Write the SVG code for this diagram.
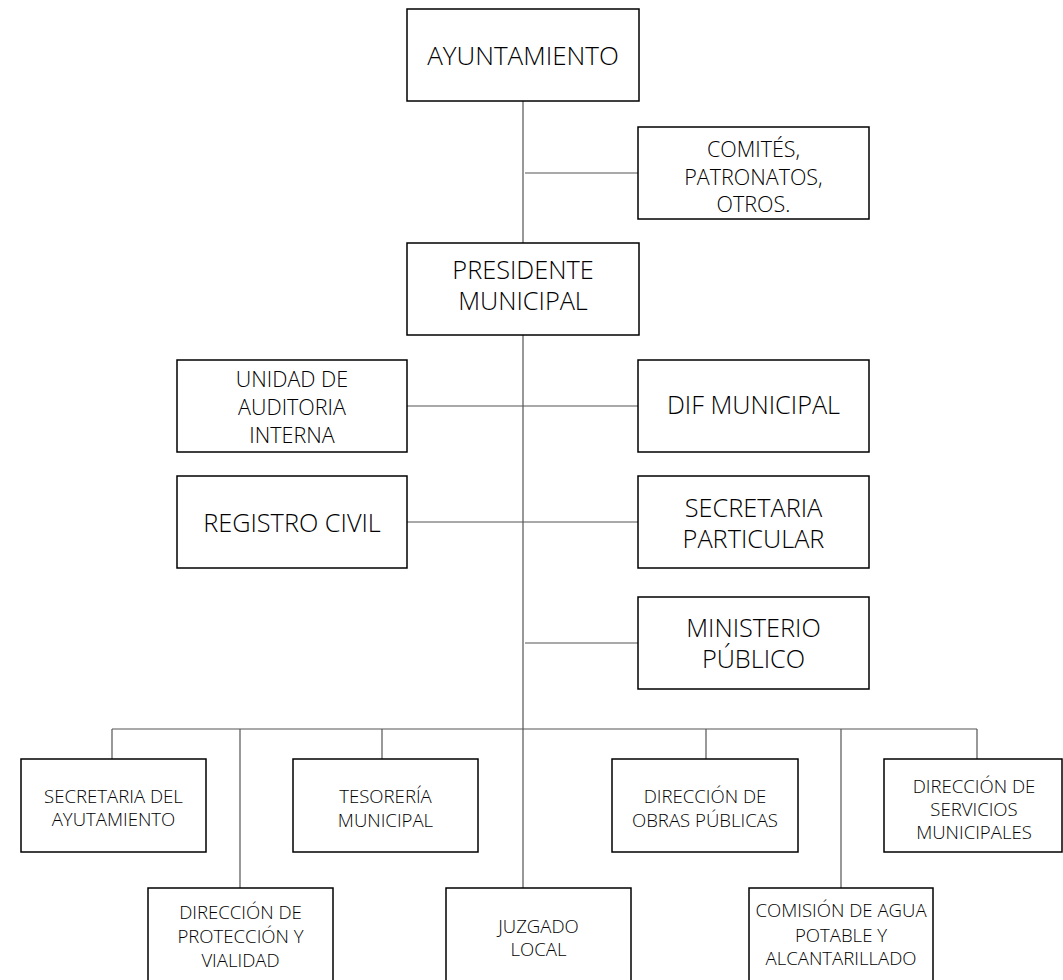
<svg xmlns="http://www.w3.org/2000/svg" width="1063" height="980" viewBox="0 0 1063 980">
<style>
.box{fill:#fff;stroke:#000;stroke-width:1.5}
.t{font-family:"Open Sans","Segoe UI","Liberation Sans",sans-serif;font-weight:300;fill:#000;text-anchor:middle}
.l{font-size:25.3px}
.m{font-size:21.5px}
.s{font-size:18.6px}
.c{stroke:#555;stroke-width:1.2;fill:none}
</style>
<rect width="1063" height="980" fill="#fff"/>
<g id="connectors">
<path class="c" d="M523 101V243M525 173H638M523 335V888M407 406H638M407 522H638M525 643H638M112 729H977M112 729V759M240 729V888M382 729V759M706 729V759M841 729V888M977 729V759"/>
</g>
<g id="ayuntamiento"><rect class="box" x="407" y="9" width="232" height="92"/><text class="t" x="523" y="65" font-size="26">AYUNTAMIENTO</text></g>
<g id="comites"><rect class="box" x="638" y="127" width="231" height="92"/><text class="t m" x="753.5"><tspan x="753.5" y="157">COMITÉS,</tspan><tspan x="753.5" y="185">PATRONATOS,</tspan><tspan x="753.5" y="212">OTROS.</tspan></text></g>
<g id="presidente"><rect class="box" x="407" y="243" width="232" height="92"/><text class="t l"><tspan x="523" y="279">PRESIDENTE</tspan><tspan x="523" y="310">MUNICIPAL</tspan></text></g>
<g id="auditoria"><rect class="box" x="177" y="360" width="230" height="92"/><text class="t m"><tspan x="292" y="387">UNIDAD DE</tspan><tspan x="292" y="415">AUDITORIA</tspan><tspan x="292" y="443">INTERNA</tspan></text></g>
<g id="dif"><rect class="box" x="638" y="360" width="231" height="92"/><text class="t l" x="753.5" y="414">DIF MUNICIPAL</text></g>
<g id="registro"><rect class="box" x="177" y="476" width="230" height="92"/><text class="t l" x="292" y="532">REGISTRO CIVIL</text></g>
<g id="secparticular"><rect class="box" x="638" y="476" width="231" height="92"/><text class="t l"><tspan x="753.5" y="517">SECRETARIA</tspan><tspan x="753.5" y="548">PARTICULAR</tspan></text></g>
<g id="ministerio"><rect class="box" x="638" y="597" width="231" height="92"/><text class="t l"><tspan x="753.5" y="637">MINISTERIO</tspan><tspan x="753.5" y="668">PÚBLICO</tspan></text></g>
<g id="secayuntamiento"><rect class="box" x="21" y="759" width="185" height="93"/><text class="t s"><tspan x="113.5" y="803">SECRETARIA DEL</tspan><tspan x="113.5" y="826">AYUTAMIENTO</tspan></text></g>
<g id="tesoreria"><rect class="box" x="293" y="759" width="185" height="93"/><text class="t s"><tspan x="385.5" y="803">TESORERÍA</tspan><tspan x="385.5" y="827">MUNICIPAL</tspan></text></g>
<g id="obras"><rect class="box" x="612" y="759" width="186" height="93"/><text class="t s"><tspan x="705" y="803">DIRECCIÓN DE</tspan><tspan x="705" y="827">OBRAS PÚBLICAS</tspan></text></g>
<g id="servicios"><rect class="box" x="884" y="759" width="178" height="93"/><text class="t s"><tspan x="974" y="793">DIRECCIÓN DE</tspan><tspan x="974" y="816">SERVICIOS</tspan><tspan x="974" y="839">MUNICIPALES</tspan></text></g>
<g id="proteccion"><rect class="box" x="148" y="888" width="185" height="100"/><text class="t s"><tspan x="240.5" y="919">DIRECCIÓN DE</tspan><tspan x="240.5" y="943">PROTECCIÓN Y</tspan><tspan x="240.5" y="967">VIALIDAD</tspan></text></g>
<g id="juzgado"><rect class="box" x="446" y="888" width="185" height="100"/><text class="t s"><tspan x="538.5" y="933">JUZGADO</tspan><tspan x="538.5" y="956">LOCAL</tspan></text></g>
<g id="comision"><rect class="box" x="749" y="888" width="184" height="100"/><text class="t s"><tspan x="841" y="917">COMISIÓN DE AGUA</tspan><tspan x="841" y="942">POTABLE Y</tspan><tspan x="841" y="965">ALCANTARILLADO</tspan></text></g>
</svg>
